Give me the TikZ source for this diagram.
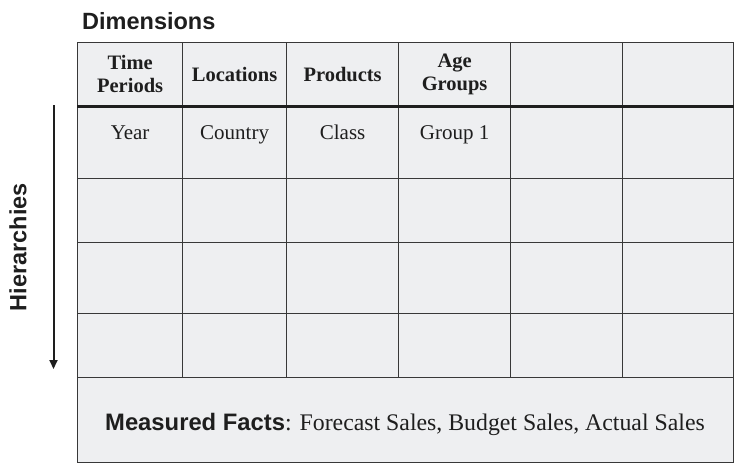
\documentclass[tikz,border=0pt]{standalone}
\usepackage{fontspec}
\setmainfont{Liberation Serif}
\setsansfont{Liberation Sans}
\usetikzlibrary{arrows.meta}
\definecolor{cellfill}{HTML}{EEEFF1}
\definecolor{linec}{HTML}{383838}
\definecolor{inkc}{HTML}{1E1E1E}
\tikzset{
  cell/.style={draw=linec, fill=cellfill, line width=1.2pt, inner sep=0pt, anchor=north west},
  headtxt/.style={text=inkc, font=\fontsize{20.5}{23}\selectfont\bfseries, align=center, inner sep=0pt},
  bodytxt/.style={text=inkc, font=\fontsize{21}{24}\selectfont, inner sep=0pt, anchor=base},
  sanslab/.style={text=inkc, font=\fontsize{23.5}{26}\selectfont\sffamily\bfseries, inner sep=0pt},
}
\begin{document}
\begin{tikzpicture}[x=1pt,y=-1pt]
\useasboundingbox (0,0) rectangle (738,466);
% column and row edges
\def\cols{77/182/1,182/286/2,286/398/3,398/510/4,510/622/5,622/733/6}
\def\rows{42/105/0,105/178/1,178/242/2,242/313/3,313/377/4}
\foreach \xa/\xb/\c in \cols {
  \foreach \ya/\yb/\r in \rows {
    \pgfmathsetmacro{\w}{\xb-\xa}
    \pgfmathsetmacro{\h}{\yb-\ya}
    \node[cell, minimum width=\w pt, minimum height=\h pt] (c\r-\c) at (\xa,\ya) {};
  }
}
% measured facts box
\node[cell, minimum width=656pt, minimum height=85pt] (facts) at (77,377) {};
\node[text=inkc, font=\fontsize{23.8}{26}\selectfont, inner sep=0pt, anchor=base] (factstxt) at (405,430)
  {{\sffamily\bfseries Measured Facts}: Forecast Sales, Budget Sales, Actual Sales};
% thick line under header
\draw[line width=3pt, draw=inkc] (c0-1.south west) -- (c0-6.south east);
% header texts
\node[headtxt] (h1) at (c0-1.center) {Time\\Periods};
\node[headtxt] (h2) at (c0-2.center) {Locations};
\node[headtxt] (h3) at (c0-3.center) {Products};
\node[headtxt] (h4) at (c0-4.center) {Age\\Groups};
% first body row texts
\node[bodytxt] (t1) at ([yshift=-34pt]c1-1.north) {Year};
\node[bodytxt] (t2) at ([yshift=-34pt]c1-2.north) {Country};
\node[bodytxt] (t3) at ([yshift=-34pt]c1-3.north) {Class};
\node[bodytxt] (t4) at ([yshift=-34pt]c1-4.north) {Group 1};
% labels
\node[sanslab, anchor=base west] (dims) at (82,29) {Dimensions};
\node[sanslab, rotate=90] (hier) at (18,247) {Hierarchies};
% arrow
\coordinate (atop) at (53.5,105);
\coordinate (abot) at (53.5,369);
\draw[line width=2pt, draw=inkc, -{Triangle[width=8pt,length=9pt]}] (atop) -- (abot);
\end{tikzpicture}
\end{document}
